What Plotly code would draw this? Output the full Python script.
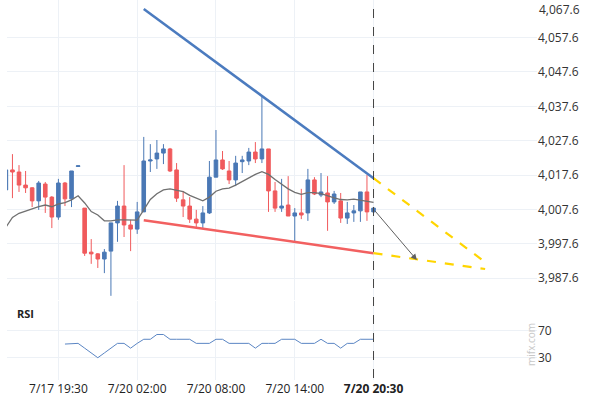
import plotly.graph_objects as go

# ---- data ----
x_labels = ["7/17 19:30", "7/20 02:00", "7/20 08:00", "7/20 14:00", "<b>7/20 20:30</b>"]
label_idx = [8, 20, 32, 44, 56]

opens = [4013.3, 4019.1, 4018.5, 4014.7, 4013.9, 4010.1, 4015.0, 4011.2, 4005.4, 4015.3,
         4010.7, 4020.1, 4008.0, 3995.2, 3994.7, 3993.2, 3995.5, 4003.7, 4008.6, 4003.1,
         4001.9, 4006.9, 4021.7, 4022.3, 4024.0, 4025.2, 4019.1, 4010.4, 4008.6, 4004.8,
         4003.7, 4006.6, 4017.0, 4022.0, 4018.8, 4016.2, 4021.5, 4021.7, 4024.3, 4022.3,
         4025.2, 4013.0, 4008.0, 4008.9, 4005.7, 4006.6, 4006.6, 4016.2, 4011.8, 4012.4,
         4009.8, 4010.1, 4005.1, 4006.6, 4007.2, 4012.7, 4006.9]
highs = [4019.3, 4023.7, 4020.5, 4018.8, 4014.1, 4015.9, 4015.6, 4011.5, 4016.5, 4015.6,
         4018.8, 4020.3, 4008.0, 3999.0, 3994.9, 3996.1, 4003.7, 4010.1, 4020.5, 4004.6,
         4009.8, 4028.7, 4026.6, 4027.8, 4026.6, 4025.5, 4021.1, 4013.0, 4011.2, 4007.5,
         4008.6, 4021.7, 4030.7, 4024.6, 4021.7, 4023.2, 4023.2, 4025.5, 4027.2, 4040.3,
         4025.2, 4015.6, 4016.5, 4017.3, 4008.0, 4013.6, 4019.4, 4017.0, 4018.2, 4017.3,
         4013.0, 4012.4, 4009.8, 4008.9, 4012.7, 4017.6, 4008.3]
lows = [4013.1, 4010.9, 4012.7, 4012.4, 4008.3, 4007.5, 4006.6, 4002.2, 4004.6, 4008.6,
        4008.3, 4020.1, 3994.1, 3991.8, 3990.6, 3989.1, 3982.5, 3998.2, 3999.6, 3995.5,
        4000.5, 4006.9, 4018.5, 4019.4, 4020.8, 4018.5, 4009.8, 4005.4, 4003.7, 4002.5,
        4001.9, 4006.3, 4017.0, 4019.1, 4015.0, 4014.4, 4018.2, 4020.5, 4021.1, 4021.1,
        4006.9, 4006.9, 4006.9, 4005.7, 3998.2, 4004.8, 4004.3, 4011.8, 4011.2, 4001.4,
        4009.2, 4003.7, 4003.4, 4004.0, 4004.0, 4004.3, 4006.9]
closes = [4019.1, 4018.5, 4014.7, 4013.9, 4010.1, 4015.3, 4011.2, 4005.4, 4015.3, 4010.7,
          4018.8, 4020.3, 3994.9, 3994.7, 3993.2, 3995.2, 4003.7, 4008.6, 4003.1, 4001.9,
          4006.9, 4021.7, 4022.0, 4024.0, 4025.2, 4018.8, 4010.9, 4008.6, 4004.8, 4003.7,
          4006.6, 4017.0, 4022.0, 4019.4, 4016.2, 4021.1, 4022.0, 4024.3, 4022.3, 4025.2,
          4013.0, 4008.0, 4008.6, 4005.7, 4006.6, 4006.0, 4016.2, 4012.1, 4012.7, 4009.8,
          4012.1, 4005.1, 4006.6, 4007.2, 4012.7, 4006.9, 4008.0]
ma = [4002.4, 4005.3, 4006.5, 4007.2, 4007.7, 4008.4, 4008.9, 4008.4, 4009.2, 4009.6,
      4010.4, 4011.6, 4009.5, 4007.0, 4006.0, 4004.3, 4004.3, 4004.6, 4004.6, 4004.5,
      4004.5, 4007.5, 4010.5, 4012.2, 4013.3, 4013.6, 4013.3, 4012.8, 4011.7, 4010.8,
      4010.1, 4011.2, 4012.9, 4013.6, 4013.8, 4014.7, 4015.8, 4016.8, 4017.8, 4018.6,
      4017.8, 4016.3, 4014.9, 4013.6, 4012.6, 4012.0, 4012.5, 4012.5, 4012.2, 4011.5,
      4011.0, 4010.5, 4010.4, 4010.6, 4010.3, 4010.0, 4009.7]
rsi_start = 9
rsi = [50, 50.5, 51, 44, 37, 30, 37, 44, 51, 51, 44, 51, 57, 57, 64, 64, 57, 57, 57, 57,
       51, 51, 51, 57, 57, 51, 51, 51, 51, 44, 51, 51, 51, 57, 57, 57, 51, 51, 51, 57,
       51, 51, 44, 51, 51, 57, 57, 57]

# pattern lines
res_x = [21, 56]; res_y = [4065.9, 4016.7]
sup_x = [21, 56]; sup_y = [4004.5, 3994.9]
proj1_x = [56, 73]; proj1_y = [4016.7, 3992.3]
proj2_x = [56, 73]; proj2_y = [3994.9, 3990.3]
arrow_from = (56, 4007.7); arrow_to = (62.6, 3992.9)

price_ticks = [3987.6 + 10 * k for k in range(9)]

# ---- figure ----
W, H = 590, 400
n = len(opens)
xs = list(range(n))
BLUE = "#4a78b5"
RED = "#f05a5c"
GRID = "#edf1f6"

fig = go.Figure()
fig.add_trace(go.Candlestick(
    x=xs, open=opens, high=highs, low=lows, close=closes,
    increasing=dict(line=dict(color=BLUE, width=1), fillcolor=BLUE),
    decreasing=dict(line=dict(color=RED, width=1), fillcolor=RED),
    whiskerwidth=0, xaxis="x", yaxis="y", showlegend=False))
fig.add_trace(go.Scatter(x=xs, y=ma, mode="lines", line=dict(color="#707070", width=1.3),
                         xaxis="x", yaxis="y", showlegend=False))
fig.add_trace(go.Scatter(x=res_x, y=res_y, mode="lines", line=dict(color="#4b7bbf", width=2.5),
                         showlegend=False))
fig.add_trace(go.Scatter(x=sup_x, y=sup_y, mode="lines", line=dict(color="#f26060", width=2.5),
                         showlegend=False))
for px_, py_ in [(proj1_x, proj1_y), (proj2_x, proj2_y)]:
    fig.add_trace(go.Scatter(x=px_, y=py_, mode="lines",
                             line=dict(color="#ffd500", width=2.2, dash="dash"),
                             showlegend=False))
fig.add_trace(go.Scatter(x=list(range(rsi_start, rsi_start + len(rsi))), y=rsi, mode="lines",
                         line=dict(color="#5b86c4", width=1), xaxis="x2", yaxis="y2",
                         showlegend=False))

fig.add_annotation(x=arrow_to[0], y=arrow_to[1], ax=arrow_from[0], ay=arrow_from[1],
                   xref="x", yref="y", axref="x", ayref="y", showarrow=True,
                   arrowhead=2, arrowsize=1.2, arrowwidth=1, arrowcolor="#606060", text="")

# layout geometry
xl, xr = 7 / W, 537 / W
xrange = [0.17, 80.9]
price_dom = [1 - 300 / H, 1]
rsi_dom = [1 - 380 / H, 1 - 301 / H]

fig.add_shape(type="line", xref="x", yref="paper", x0=56, x1=56, y0=1 - 378 / H, y1=1,
              line=dict(color="#444", width=1, dash="dash"))

# top price label sits just inside the top edge in the reference
fig.add_annotation(xref="paper", yref="paper", x=538 / W, y=1,
                   text=f"{price_ticks[-1]:,.1f}", showarrow=False,
                   xanchor="left", yanchor="top", borderpad=0,
                   font=dict(size=12, color="#333", family="Open Sans"))
fig.add_annotation(xref="paper", yref="paper", x=15 / W, y=1 - 313 / H, text="<b>RSI</b>",
                   showarrow=False, xanchor="left", yanchor="middle",
                   font=dict(size=11, color="#222", family="Open Sans"))
fig.add_annotation(xref="paper", yref="paper", x=531 / W, y=1 - 345 / H, text="mifx.com",
                   showarrow=False, textangle=-90, xanchor="center", yanchor="middle",
                   font=dict(size=10, color="#c8c8c8", family="Open Sans"))

fig.update_layout(
    width=W, height=H, margin=dict(l=0, r=0, t=0, b=0),
    paper_bgcolor="white", plot_bgcolor="white", boxgap=0.22,
    font=dict(family="Open Sans", size=12, color="#333"),
    xaxis=dict(domain=[xl, xr], range=xrange, anchor="y", showticklabels=False,
               tickvals=label_idx, showgrid=True, gridcolor=GRID, zeroline=False,
               rangeslider=dict(visible=False), showline=False, ticks=""),
    yaxis=dict(domain=price_dom, range=[3981.29, 4068.5], side="right", anchor="x",
               tickvals=price_ticks[:-1], tickformat=",.1f", showgrid=True, gridcolor=GRID,
               zeroline=False, ticks="", showline=False, tickfont=dict(size=12, color="#333")),
    xaxis2=dict(domain=[xl, xr], range=xrange, anchor="y2", tickvals=label_idx,
                ticktext=x_labels, showgrid=True, gridcolor=GRID, zeroline=False,
                ticks="", showline=False, tickfont=dict(size=12, color="#222")),
    yaxis2=dict(domain=rsi_dom, range=[-2.6, 113], side="right", anchor="x2",
                tickvals=[30, 70], showgrid=True, gridcolor=GRID, zeroline=False,
                ticks="", showline=False, tickfont=dict(size=12, color="#333")),
)

fig.write_html("out.html")
